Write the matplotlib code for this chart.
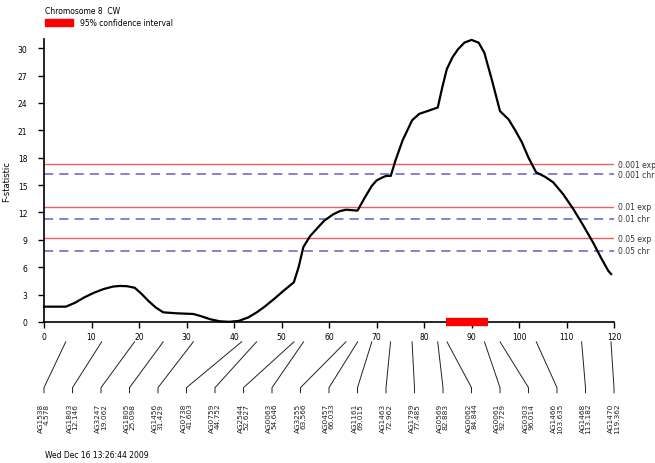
import matplotlib
matplotlib.use('Agg')
import matplotlib.pyplot as plt
import matplotlib.transforms as mtransforms

# curve (cM, F)
pos = [0, 4.6, 6.5, 8.5, 10.5, 12.5, 14.5, 16, 17.5, 19.1, 20.5, 22, 23.5, 25.1,
       28, 31.4, 33, 35, 37, 39, 41, 43, 44.8, 46.5, 48.5, 50.5, 52.6, 53.6,
       54.6, 56, 57.4, 59, 60.9, 62.3, 63.6, 66.0, 67.5, 69.0, 70, 71.1, 72,
       73.0, 74.0, 75.5, 77.5, 79, 81, 82.9, 83.8, 84.8, 86, 87.2, 88.5, 90,
       91.5, 92.7, 94.3, 96.0, 97.8, 99.2, 100.6, 102, 103.6, 105.5, 107.2,
       109.3, 111.4, 113.5, 115.6, 117.3, 118.8, 119.4]
fstat = [1.68, 1.68, 2.1, 2.7, 3.2, 3.6, 3.88, 3.95, 3.92, 3.75, 3.1, 2.3, 1.6,
         1.06, 0.95, 0.88, 0.65, 0.3, 0.08, 0.02, 0.12, 0.5, 1.06, 1.7, 2.55,
         3.45, 4.35, 6.0, 8.2, 9.4, 10.2, 11.1, 11.8, 12.15, 12.3, 12.2, 13.6,
         14.9, 15.5, 15.8, 16.0, 16.0, 17.7, 19.9, 22.1, 22.8, 23.15, 23.5,
         25.6, 27.7, 29.0, 29.9, 30.6, 30.9, 30.6, 29.5, 26.5, 23.1, 22.2, 21.0,
         19.7, 18.0, 16.4, 15.9, 15.3, 14.0, 12.4, 10.6, 8.7, 7.0, 5.6, 5.25]

thr_labels = ['0.001 exp', '0.001 chr', '0.01 exp', '0.01 chr', '0.05 exp', '0.05 chr']
thr_values = [17.3, 16.2, 12.6, 11.3, 9.2, 7.8]

ci = [84.6, 93.5]

markers = ['AG1538', 'AG1803', 'AG3247', 'AG1805', 'AG1456', 'AG0738', 'AG0759',
           'AG2544', 'AG0063', 'AG3255', 'AG0457', 'AG1161', 'AG1463', 'AG1799',
           'AG0569', 'AG0062', 'AG0061', 'AG0303', 'AG1466', 'AG1468', 'AG1470']
marker_pos = [4.578, 12.146, 19.062, 25.098, 31.429, 41.603, 44.752, 52.627,
              54.646, 63.566, 66.033, 69.015, 72.962, 77.485, 82.883, 84.844,
              92.729, 96.014, 103.635, 113.182, 119.362]

fig = plt.figure(figsize=(6.55, 4.64), dpi=100)
ax = fig.add_axes([44 / 655, 1 - 323 / 464, 570 / 655, 283 / 464])

ax.plot(pos, fstat, color='black', lw=1.6, clip_on=False, zorder=5)

for lab, v in zip(thr_labels, thr_values):
    if lab.endswith('exp'):
        ax.axhline(v, color='#ee6060', lw=1.0)
    else:
        ax.axhline(v, color='#6060c8', lw=1.1, ls=(0, (6, 4)))
    ax.text(1.007, v, lab, transform=ax.get_yaxis_transform(), fontsize=5.5,
            va='center', ha='left', color='#333333')

ax.plot(ci, [0, 0], color='#ff0000', lw=6, solid_capstyle='butt',
        clip_on=False, zorder=6)

ax.set_xlim(0, 120)
ax.set_ylim(0, 31)
ax.set_xticks(range(0, 121, 10))
ax.set_yticks(range(0, 31, 3))
ax.tick_params(labelsize=5.5, length=4, width=1, colors='black', pad=3)
ax.tick_params(axis='y', pad=8)
for s in ['top', 'right']:
    ax.spines[s].set_visible(False)
for s in ['left', 'bottom']:
    ax.spines[s].set_linewidth(1.2)
ax.set_ylabel('F-statistic', fontsize=6, labelpad=5)

# marker leaders and labels
trans = mtransforms.blended_transform_factory(ax.transData, ax.transAxes)
n = len(markers)
for i, (m, p) in enumerate(zip(markers, marker_pos)):
    lx = i * 120 / (n - 1)
    ax.plot([p, lx, lx], [-0.07, -0.232, -0.25], color='#222222', lw=0.7,
            transform=trans, clip_on=False)
    ax.text(lx, -0.285, '%s\n%.3f' % (m, p), transform=trans, rotation=90,
            ha='center', va='top', multialignment='right', fontsize=5.3,
            linespacing=0.95, color='#222222')

fig.text(45 / 655, 1 - 11 / 464, 'Chromosome 8  CW', fontsize=5.5, va='center')
fig.patches.append(plt.Rectangle((45 / 655, 1 - 27 / 464), 28 / 655, 7 / 464,
                                 color='#ff0000', transform=fig.transFigure))
fig.text(80 / 655, 1 - 23.5 / 464, '95% confidence interval', fontsize=5.5,
         va='center')
fig.text(45 / 655, 1 - 456 / 464, 'Wed Dec 16 13:26:44 2009', fontsize=5.5,
         va='center')

fig.savefig('out.png', dpi=100)
